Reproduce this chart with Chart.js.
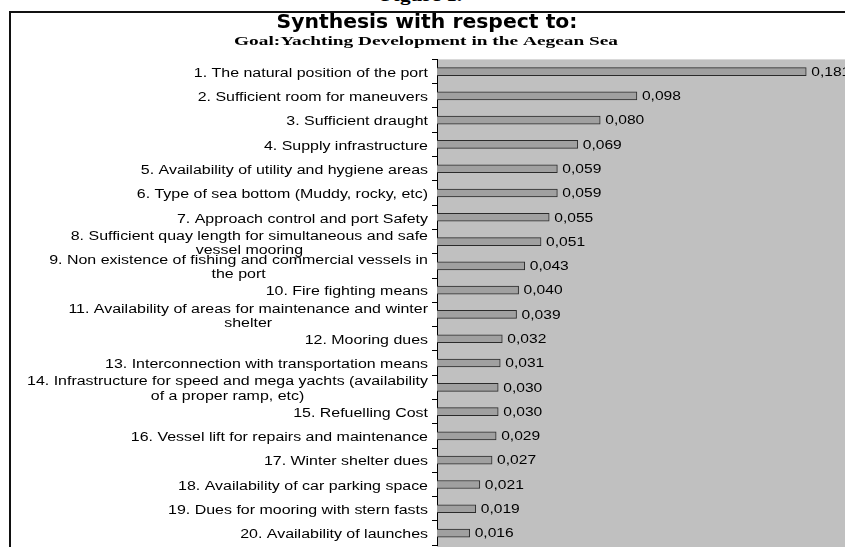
<!DOCTYPE html>
<html>
<head>
<meta charset="utf-8">
<script src="https://cdn.jsdelivr.net/npm/chart.js@4/dist/chart.umd.min.js"></script>
<style>
  html, body { margin: 0; padding: 0; background: #fff; overflow: hidden; }
  #page { position: relative; width: 845px; height: 547px; overflow: hidden; }
  #fig { position: absolute; left: 0; width: 845px; top: -14px; text-align: center;
         font: bold 17px "Liberation Serif", serif; color: #000;
         transform: scaleX(1.25); transform-origin: 426px 0; }
  #frame { position: absolute; left: 9px; top: 11px; width: 900px; height: 600px;
           border-left: 2px solid #111; border-top: 2px solid #111; }
  #wrap { position: absolute; left: 0; top: 0; width: 845px; height: 547px; }
</style>
</head>
<body>
<div id="page">
  <div id="fig">Figure 1.</div>
  <div id="frame"></div>
  <div id="wrap"><canvas id="c"></canvas></div>
</div>
<script>
const chartTitle = "Synthesis with respect to:";
const chartSubtitle = "Goal:Yachting Development in the Aegean Sea";

const categories = [
  ["1. The natural position of the port"],
  ["2. Sufficient room for maneuvers"],
  ["3. Sufficient draught"],
  ["4. Supply infrastructure"],
  ["5. Availability of utility and hygiene areas"],
  ["6. Type of sea bottom (Muddy, rocky, etc)"],
  ["7. Approach control and port Safety"],
  ["8. Sufficient quay length for simultaneous and safe", "vessel mooring"],
  ["9. Non existence of fishing and commercial vessels in", "the port"],
  ["10. Fire fighting means"],
  ["11. Availability of areas for maintenance and winter", "shelter"],
  ["12. Mooring dues"],
  ["13. Interconnection with transportation means"],
  ["14. Infrastructure for speed and mega yachts (availability", "of a proper ramp, etc)"],
  ["15. Refuelling Cost"],
  ["16. Vessel lift for repairs and maintenance"],
  ["17. Winter shelter dues"],
  ["18. Availability of car parking space"],
  ["19. Dues for mooring with stern fasts"],
  ["20. Availability of launches"]
];

const weights = [0.181, 0.098, 0.080, 0.069, 0.059, 0.059, 0.055, 0.051, 0.043, 0.040,
                 0.039, 0.032, 0.031, 0.030, 0.030, 0.029, 0.027, 0.021, 0.019, 0.016];

// draw text horizontally stretched (the reference picture is widened)
function stretchText(ctx, text, x, y, sx, align) {
  ctx.save();
  ctx.translate(x, y);
  ctx.scale(sx, 1);
  ctx.textAlign = align;
  ctx.fillText(text, 0, 0);
  ctx.restore();
}

const plotBg = {
  id: 'plotBg',
  beforeDraw(chart) {
    const {ctx, chartArea: a} = chart;
    ctx.save();
    ctx.fillStyle = '#c0c0c0';
    ctx.fillRect(a.left, a.top, chart.width - a.left, chart.height - a.top);
    ctx.restore();
  }
};

const titles = {
  id: 'titles',
  afterDraw(chart) {
    const {ctx} = chart;
    ctx.save();
    ctx.fillStyle = '#000';
    ctx.textBaseline = 'alphabetic';
    ctx.font = 'bold 19px "DejaVu Sans", sans-serif';
    const tw = ctx.measureText(chartTitle).width;
    stretchText(ctx, chartTitle, 427, 28, 301 / tw, 'center');
    ctx.font = 'bold 13px "Liberation Serif", serif';
    const sw = ctx.measureText(chartSubtitle).width;
    stretchText(ctx, chartSubtitle, 426, 44.5, 384 / sw, 'center');
    ctx.restore();
  }
};

const SX = 1.33;
const catLabels = {
  id: 'catLabels',
  afterDraw(chart) {
    const {ctx} = chart;
    const y = chart.scales.y;
    const right = chart.chartArea.left - 9;
    const lh = 14.3;
    ctx.save();
    ctx.font = '12px "Liberation Sans", Arial, sans-serif';
    ctx.fillStyle = '#000';
    ctx.textBaseline = 'middle';
    chart.data.labels.forEach((lines, i) => {
      const cy = y.getPixelForValue(i) + 2;
      const w = Math.max(...lines.map(l => ctx.measureText(l).width)) * SX;
      const cx = right - w / 2;
      const y0 = cy - (lines.length - 1) * lh / 2;
      lines.forEach((l, k) => stretchText(ctx, l, cx, y0 + k * lh, SX, 'center'));
    });
    ctx.restore();
  }
};

const valLabels = {
  id: 'valLabels',
  afterDatasetsDraw(chart) {
    const {ctx} = chart;
    const meta = chart.getDatasetMeta(0);
    ctx.save();
    ctx.font = '12px "Liberation Sans", Arial, sans-serif';
    ctx.fillStyle = '#000';
    ctx.textBaseline = 'middle';
    meta.data.forEach((bar, i) => {
      const v = chart.data.datasets[0].data[i];
      stretchText(ctx, v.toFixed(3).replace('.', ','), bar.x + 5, bar.y + 1, 1.3, 'left');
    });
    ctx.restore();
  }
};

new Chart(document.getElementById('c'), {
  type: 'bar',
  data: {
    labels: categories,
    datasets: [{
      data: weights,
      backgroundColor: '#a0a0a0',
      borderColor: '#2a2a2a',
      borderWidth: 1,
      borderSkipped: 'left',
      barThickness: 8
    }]
  },
  options: {
    indexAxis: 'y',
    responsive: true,
    maintainAspectRatio: false,
    animation: false,
    events: [],
    layout: { padding: { left: 0, right: 0, top: 59.4, bottom: 1.8 } },
    scales: {
      x: { display: false, min: 0, max: 0.2 },
      y: {
        display: true,
        afterFit(scale) { scale.width = 437; },
        ticks: { display: false },
        grid: { display: true, drawOnChartArea: false, drawTicks: true, tickLength: 5, color: '#000', offset: true },
        border: { display: true, color: '#000', width: 1 }
      }
    },
    plugins: {
      legend: { display: false },
      tooltip: { enabled: false },
      title: { display: false },
      subtitle: { display: false }
    }
  },
  plugins: [plotBg, titles, catLabels, valLabels]
});
</script>
</body>
</html>
